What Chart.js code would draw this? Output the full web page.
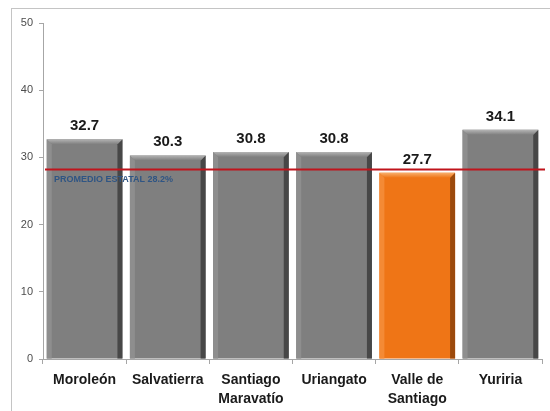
<!DOCTYPE html>
<html lang="es">
<head>
<meta charset="UTF-8">
<title>Municipios</title>
<style>
    body {
        margin: 0;
        background: #ffffff;
        overflow: hidden;
    }
    .frame {
        position: absolute;
        left: 11px;
        top: 8px;
        width: 600px;
        height: 500px;
        border: 1px solid #c4c4c4;
    }
    #chart {
        position: absolute;
        left: 0;
        top: 0;
    }
</style>
</head>
<body>
<div class="frame"></div>
<canvas id="chart" width="550" height="411"></canvas>

<script src="https://cdn.jsdelivr.net/npm/chart.js"></script>
<script>
    // Municipios y valores
    const municipios = ['Moroleón', 'Salvatierra', ['Santiago', 'Maravatío'], 'Uriangato', ['Valle de', 'Santiago'], 'Yuriria'];
    const valores = [32.7, 30.3, 30.8, 30.8, 27.7, 34.1];
    const destacado = 'Valle de Santiago';
    const promedioEstatal = 28.2;
    const promedioTexto = 'PROMEDIO ESTATAL 28.2%';
    const yTicks = [0, 10, 20, 30, 40, 50];

    const nombre = l => Array.isArray(l) ? l.join(' ') : l;
    const colores = municipios.map(m => nombre(m) === destacado
        ? { base: '#ef7516', top: '#f8ad6a', side: '#9c4a0c', left: '#f48a35' }
        : { base: '#7f7f7f', top: '#b4b4b4', side: '#474747', left: '#8e8e8e' });

    // bevel on each bar, using the bar element geometry
    const bevelPlugin = {
        id: 'bevel',
        afterDatasetDraw(chart, args) {
            if (args.index !== 0) return;
            const ctx = chart.ctx;
            const b = 5;
            args.meta.data.forEach((bar, i) => {
                const c = colores[i];
                const l = bar.x - bar.width / 2, r = bar.x + bar.width / 2;
                const t = bar.y, btm = bar.base;
                ctx.save();
                // left
                ctx.fillStyle = c.left;
                ctx.beginPath();
                ctx.moveTo(l, t); ctx.lineTo(l + b, t + b); ctx.lineTo(l + b, btm); ctx.lineTo(l, btm);
                ctx.closePath(); ctx.fill();
                // right
                ctx.fillStyle = c.side;
                ctx.beginPath();
                ctx.moveTo(r, t); ctx.lineTo(r - b, t + b); ctx.lineTo(r - b, btm); ctx.lineTo(r, btm);
                ctx.closePath(); ctx.fill();
                // top
                const g = ctx.createLinearGradient(0, t, 0, t + b);
                g.addColorStop(0, c.top);
                g.addColorStop(1, c.base);
                ctx.fillStyle = g;
                ctx.beginPath();
                ctx.moveTo(l, t); ctx.lineTo(r, t); ctx.lineTo(r - b, t + b); ctx.lineTo(l + b, t + b);
                ctx.closePath(); ctx.fill();
                // value label
                ctx.fillStyle = '#1a1a1a';
                ctx.font = 'bold 15px "Liberation Sans", Arial, sans-serif';
                ctx.textAlign = 'center';
                ctx.textBaseline = 'alphabetic';
                ctx.fillText(valores[i].toFixed(1), bar.x, t - 9);
                ctx.restore();
            });
        }
    };

    // state average line with its label
    const promedioPlugin = {
        id: 'promedio',
        afterDatasetsDraw(chart) {
            const ctx = chart.ctx;
            const area = chart.chartArea;
            const y = chart.scales.y.getPixelForValue(promedioEstatal);
            ctx.save();
            ctx.strokeStyle = '#c0141c';
            ctx.lineWidth = 2;
            ctx.beginPath();
            ctx.moveTo(area.left + 2, y);
            ctx.lineTo(area.right + 3, y);
            ctx.stroke();
            ctx.fillStyle = '#2f5584';
            ctx.font = 'bold 9px "Liberation Sans", Arial, sans-serif';
            ctx.textAlign = 'left';
            ctx.textBaseline = 'middle';
            ctx.fillText(promedioTexto, area.left + 11, y + 10);
            ctx.restore();
        }
    };

    new Chart(document.getElementById('chart'), {
        type: 'bar',
        data: {
            labels: municipios,
            datasets: [{
                data: valores,
                backgroundColor: colores.map(c => c.base),
                borderWidth: 0,
                barPercentage: 0.91,
                categoryPercentage: 1
            }]
        },
        options: {
            responsive: false,
            animation: false,
            layout: { padding: { top: 23, right: 8, left: 0, bottom: 0 } },
            plugins: {
                legend: { display: false },
                tooltip: { enabled: false }
            },
            scales: {
                x: {
                    grid: { drawOnChartArea: false, tickLength: 5, color: '#a6a6a6' },
                    border: { color: '#a6a6a6' },
                    ticks: {
                        color: '#1a1a1a',
                        padding: 7,
                        maxRotation: 0,
                        autoSkip: false,
                        font: { family: '"Liberation Sans", Arial, sans-serif', size: 14, weight: 'bold', lineHeight: 1.35 }
                    },
                    afterFit: s => { s.height = 52; }
                },
                y: {
                    min: 0,
                    max: 50,
                    afterBuildTicks: s => { s.ticks = yTicks.map(v => ({ value: v })); },
                    grid: { drawOnChartArea: false, tickLength: 4, color: '#a6a6a6' },
                    border: { color: '#a6a6a6' },
                    ticks: {
                        color: '#4d4d4d',
                        padding: 6,
                        font: { family: '"Liberation Sans", Arial, sans-serif', size: 11 }
                    },
                    afterFit: s => { s.width = 43; }
                }
            }
        },
        plugins: [bevelPlugin, promedioPlugin]
    });
</script>
</body>
</html>
